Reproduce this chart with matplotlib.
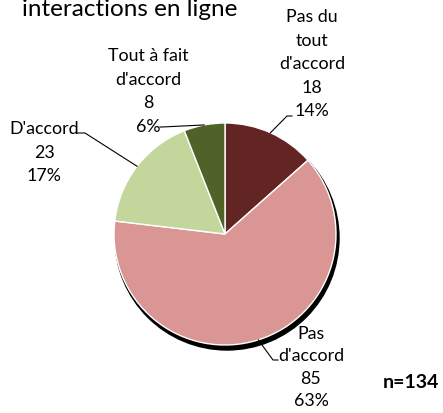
import numpy as np
import matplotlib
matplotlib.use("Agg")
import matplotlib.pyplot as plt
from matplotlib.patches import Circle

plt.rcParams['font.family'] = ['Lato', 'DejaVu Sans']

# données
categories = ["Pas du\ntout\nd'accord", "Pas\nd'accord", "D'accord", "Tout à fait\nd'accord"]
valeurs = [18, 85, 23, 8]
pourcentages = ["14%", "63%", "17%", "6%"]
couleurs = ['#632523', '#D99694', '#C3D69B', '#4F6228']
n_total = 134

W, H = 443, 414
fig = plt.figure(figsize=(W / 100, H / 100), dpi=100)
ax = fig.add_axes([0, 0, 1, 1])

cx, cy, r = 225, H - 235, 111

# ombre
ax.add_patch(Circle((cx + 2, cy - 4), r + 1, color='black', zorder=1))

wedges, _ = ax.pie(valeurs, colors=couleurs, startangle=90, counterclock=False,
                   center=(cx, cy), radius=r, frame=True,
                   wedgeprops=dict(edgecolor='white', linewidth=1, zorder=2))
ax.set_xlim(0, W)
ax.set_ylim(0, H)
ax.set_aspect('equal')
ax.axis('off')

# positions des étiquettes (centre x, haut y en pixels), coude de la ligne
pos_labels = [(312, 9), (311, 326), (44, 121), (148, 48)]
coudes = [(287, 117), (273, 361), (85, 134), (162, 128)]
fins = [(292, 117), (278, 361), (76, 134), (160, 128)]
interlignes = [1.58, 1.5, 1.58, 1.58]

for w, lab, v, p, (lx, ly), (kx, ky), (ex, ey), ls in zip(wedges, categories, valeurs,
                                                         pourcentages, pos_labels, coudes,
                                                         fins, interlignes):
    ax.text(lx, H - ly, "%s\n%d\n%s" % (lab, v, p), ha='center', va='top',
            fontsize=12.8, linespacing=ls, color='black', zorder=4)
    ang = np.deg2rad((w.theta1 + w.theta2) / 2)
    px, py = cx + r * np.cos(ang), cy + r * np.sin(ang)
    ax.plot([ex, kx, px], [H - ey, H - ky, py], color='black', lw=0.8, zorder=3)

ax.text(22, H - 16, "interactions en ligne", fontsize=17.5, ha='left', va='baseline')
ax.text(411, H - 383, "n=%d" % n_total, fontsize=14, fontweight='bold',
        ha='center', va='center')

fig.savefig('out.png', dpi=100)
